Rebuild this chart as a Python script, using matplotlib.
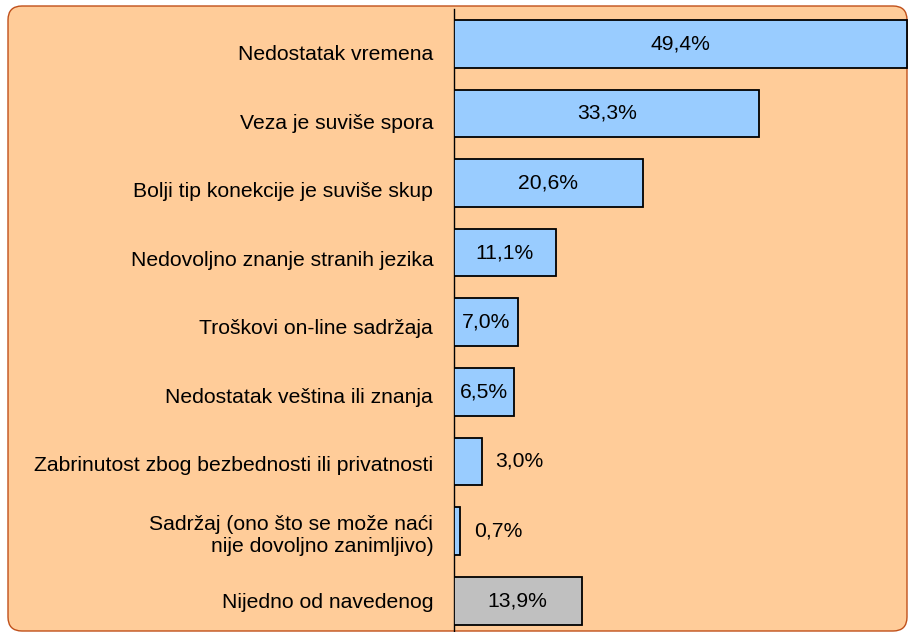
import numpy as np
import matplotlib
matplotlib.use("Agg")
import matplotlib.pyplot as plt
from matplotlib.patches import FancyBboxPatch

plt.rcParams['font.family'] = ['Liberation Sans', 'DejaVu Sans']

# data (top to bottom)
categories = [
    "Nedostatak vremena",
    "Veza je suviše spora",
    "Bolji tip konekcije je suviše skup",
    "Nedovoljno znanje stranih jezika",
    "Troškovi on-line sadržaja",
    "Nedostatak veština ili znanja",
    "Zabrinutost zbog bezbednosti ili privatnosti",
    "Sadržaj (ono što se može naći\nnije dovoljno zanimljivo)",
    "Nijedno od navedenog",
]
values = [49.4, 33.3, 20.6, 11.1, 7.0, 6.5, 3.0, 0.7, 13.9]
value_labels = ["49,4%", "33,3%", "20,6%", "11,1%", "7,0%", "6,5%", "3,0%", "0,7%", "13,9%"]
is_other = [False] * 8 + [True]

BLUE = '#99CCFF'
GREY = '#C0C0C0'
PEACH = '#FFCC99'
BORDER = '#C0501A'

fig = plt.figure(figsize=(9.09, 6.32), dpi=100)
fig.patch.set_facecolor('white')

# rounded peach background panel, kept behind the axes
panel = FancyBboxPatch((0.08, 0.01), 8.99, 6.25,
                       boxstyle="round,pad=0,rounding_size=0.14",
                       transform=fig.dpi_scale_trans,
                       facecolor=PEACH, edgecolor=BORDER, linewidth=1.0,
                       zorder=-10)
fig.patches.append(panel)

W, H = 909, 632
ax = fig.add_axes([454 / W, 0, (W - 454) / W, (H - 9) / H])
ax.set_facecolor('none')
ax.set_zorder(1)

y = np.arange(len(categories))
colors = [GREY if o else BLUE for o in is_other]
bars = ax.barh(y, values, height=0.685, color=colors,
               edgecolor='black', linewidth=1.3, zorder=3)

ax.set_xlim(0, 49.6)
ax.set_ylim(8.45, -0.5)

# category labels sit on a slightly tighter pitch than the bars (as in the original)
n = len(categories)
label_pos = y + (n - 1 - y) * 0.016
ax.set_yticks(label_pos)
ax.set_yticklabels(categories, fontsize=15.2)
ax.tick_params(axis='y', length=0, pad=15)
ax.set_xticks([])

for s in ['top', 'right', 'bottom']:
    ax.spines[s].set_visible(False)
ax.spines['left'].set_linewidth(1.0)
ax.spines['left'].set_color('black')

for bar, v, lab in zip(bars, values, value_labels):
    yc = bar.get_y() + bar.get_height() / 2
    if v >= 5:
        ax.text(v / 2, yc, lab, ha='center', va='center', fontsize=15.2, zorder=4)
    else:
        ax.annotate(lab, (v, yc), xytext=(10, 0), textcoords='offset points',
                    ha='left', va='center', fontsize=15.2, zorder=4)

fig.savefig('out.png', dpi=100)
